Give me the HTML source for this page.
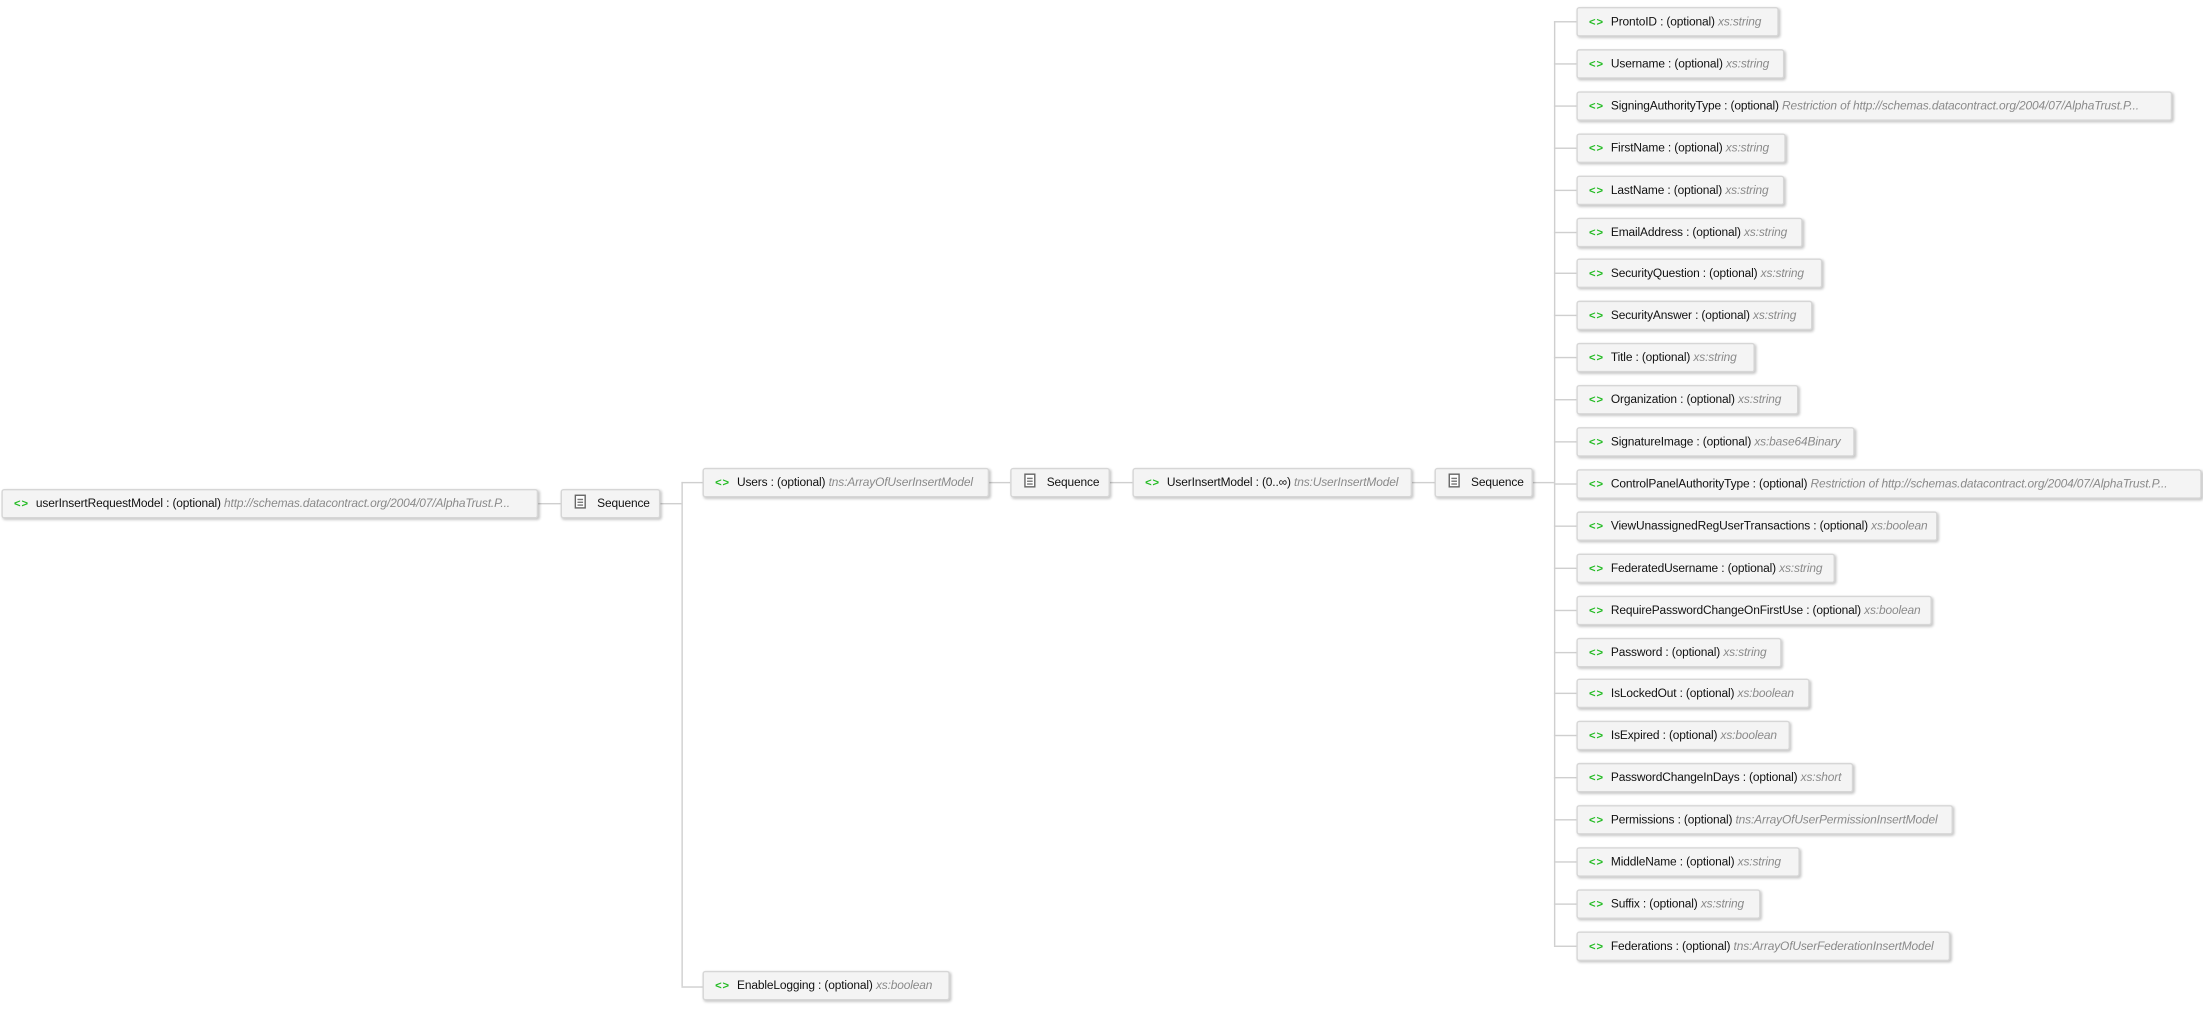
<!DOCTYPE html>
<html><head><meta charset="utf-8"><style>
html,body{margin:0;padding:0;background:#fff;width:2203px;height:1008px;overflow:hidden}
#c{position:absolute;left:0;top:0;width:1568px;height:718px;transform:scale(1.405);transform-origin:0 0;font-family:"Liberation Sans",sans-serif;}
.b{position:absolute;height:21px;box-sizing:border-box;background:#f4f4f4;border:1px solid #d6d6d6;border-radius:2px;box-shadow:1px 1px 2px rgba(0,0,0,.22);font-size:8.5px;line-height:19px;color:#111;white-space:nowrap;overflow:hidden;padding-left:8px;letter-spacing:-0.1px}
.b i{color:#8a8a8a}
.g{color:#22bb22;font-weight:bold;margin-right:5px;letter-spacing:0.6px;font-size:8px}
.s{padding-left:9px}
.s .ic{display:inline-block;width:6px;height:8px;border:1px solid #666;background:#fff;vertical-align:-1px;margin-right:8px;position:relative;box-sizing:content-box}
.s .ic:before{content:"";position:absolute;left:1px;right:1px;top:2px;height:0;border-top:1px solid #777;border-bottom:1px solid #777;padding-bottom:1px}
.s .ic:after{content:"";position:absolute;left:1px;right:1px;top:6px;border-top:1px solid #777}
.l{position:absolute;background:#cfcfcf}
</style></head><body><div id="c">
<div class="l" style="left:383px;top:358px;width:16px;height:1px"></div>
<div class="l" style="left:470px;top:358px;width:15px;height:1px"></div>
<div class="l" style="left:485px;top:343px;width:1px;height:359px"></div>
<div class="l" style="left:485px;top:343px;width:15px;height:1px"></div>
<div class="l" style="left:485px;top:702px;width:15px;height:1px"></div>
<div class="l" style="left:704px;top:343px;width:15px;height:1px"></div>
<div class="l" style="left:790px;top:343px;width:16px;height:1px"></div>
<div class="l" style="left:1005px;top:343px;width:16px;height:1px"></div>
<div class="l" style="left:1091px;top:343px;width:15px;height:1px"></div>
<div class="l" style="left:1106px;top:15px;width:1px;height:658px"></div>

<div class="b" style="left:1px;top:348px;width:382px"><span class="g">&lt;&gt;</span>userInsertRequestModel : (optional) <i>http://schemas.datacontract.org/2004/07/AlphaTrust.P...</i></div>
<div class="b s" style="left:399px;top:348px;width:71px"><span class="ic"></span>Sequence</div>
<div class="b" style="left:500px;top:333px;width:204px"><span class="g">&lt;&gt;</span>Users : (optional) <i>tns:ArrayOfUserInsertModel</i></div>
<div class="b s" style="left:719px;top:333px;width:71px"><span class="ic"></span>Sequence</div>
<div class="b" style="left:806px;top:333px;width:199px"><span class="g">&lt;&gt;</span>UserInsertModel : (0..∞) <i>tns:UserInsertModel</i></div>
<div class="b s" style="left:1021px;top:333px;width:70px"><span class="ic"></span>Sequence</div>
<div class="b" style="left:500px;top:691px;width:176px"><span class="g">&lt;&gt;</span>EnableLogging : (optional) <i>xs:boolean</i></div>

<div id="kids"></div>
<script>
var k=[["ProntoID","xs:string",1266],["Username","xs:string",1270],["SigningAuthorityType","Restriction of http://schemas.datacontract.org/2004/07/AlphaTrust.P...",1546],["FirstName","xs:string",1271],["LastName","xs:string",1270],["EmailAddress","xs:string",1283],["SecurityQuestion","xs:string",1297],["SecurityAnswer","xs:string",1290],["Title","xs:string",1249],["Organization","xs:string",1280],["SignatureImage","xs:base64Binary",1320],["ControlPanelAuthorityType","Restriction of http://schemas.datacontract.org/2004/07/AlphaTrust.P...",1567],["ViewUnassignedRegUserTransactions","xs:boolean",1379],["FederatedUsername","xs:string",1306],["RequirePasswordChangeOnFirstUse","xs:boolean",1375],["Password","xs:string",1268],["IsLockedOut","xs:boolean",1288],["IsExpired","xs:boolean",1274],["PasswordChangeInDays","xs:short",1319],["Permissions","tns:ArrayOfUserPermissionInsertModel",1390],["MiddleName","xs:string",1281],["Suffix","xs:string",1253],["Federations","tns:ArrayOfUserFederationInsertModel",1388]];
var h="";
for(var i=0;i<k.length;i++){var cy=15+i*29.9;
h+='<div class="l" style="left:1106px;top:'+Math.round(cy)+'px;width:16px;height:1px"></div>';
h+='<div class="b" style="left:1122px;top:'+(Math.round(cy)-10)+'px;width:'+(k[i][2]-1122)+'px"><span class="g">&lt;&gt;</span>'+k[i][0]+' : (optional) <i>'+k[i][1]+'</i></div>';}
document.getElementById("kids").innerHTML=h;
</script>
</div></body></html>
